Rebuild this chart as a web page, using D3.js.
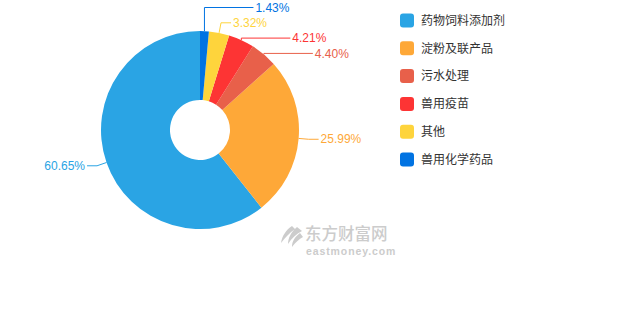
<!DOCTYPE html>
<html>
<head>
<meta charset="utf-8">
<script src="https://cdn.jsdelivr.net/npm/d3@7"></script>
<style>
  body { margin: 0; background: #fff; }
  svg { display: block; }
</style>
</head>
<body>
<div id="chart"></div>
<script>
// DATA
var categories = ['药物饲料添加剂', '淀粉及联产品', '污水处理', '兽用疫苗', '其他', '兽用化学药品'];
var shares = [60.65, 25.99, 4.40, 4.21, 3.32, 1.43];
var colors = ['#2aa4e4', '#fea838', '#e8604a', '#fd3434', '#fed43c', '#0173e2'];

var width = 630, height = 330;
var cx = 200, cy = 130, outerR = 99, innerR = 30;
var len1 = 10, len2 = 10, len2Shifted = 49, gap = 15.3;

var svg = d3.select('#chart')
  .append('svg')
    .attr('width', width)
    .attr('height', height);

var items = categories.map(function(c, i) { return { name: c, value: shares[i], color: colors[i] }; });

// smallest slice first, clockwise from 12 o'clock
var pie = d3.pie()
  .value(function(d) { return d.value; })
  .sort(function(a, b) { return a.value - b.value; });

var arc = d3.arc().innerRadius(innerR).outerRadius(outerR);
var arcs = pie(items);

// WATERMARK
var wm = svg.append('g').attr('class', 'watermark').attr('fill', '#cccccc');
wm.append('path')
  .attr('d', 'M292,226 C286,230 282,236 281,243 C285,238 289,233 295,229 Z' +
             'M297,227 C291,232 288,238 288,244 C292,238 296,234 302,231 Z' +
             'M300,233 C295,237 292,241 292,247 C296,242 299,239 303,237 Z');
wm.append('text')
  .text('东方财富网')
  .attr('x', 305)
  .attr('y', 239.5)
  .attr('font-size', 16.5)
  .attr('font-weight', 500)
  .attr('font-family', '"Noto Sans CJK SC", sans-serif');
wm.append('text')
  .text('eastmoney.com')
  .attr('x', 306)
  .attr('y', 255)
  .attr('font-size', 10.5)
  .attr('font-weight', 'bold')
  .attr('letter-spacing', 0.9)
  .attr('font-family', '"Liberation Sans", Arial, sans-serif');

// SLICES
var chart = svg.append('g').attr('transform', 'translate(' + cx + ',' + cy + ')');

chart.selectAll('path.slice')
  .data(arcs)
  .enter().append('path')
    .attr('class', 'slice')
    .attr('d', arc)
    .attr('fill', function(d) { return d.data.color; });

// LABELS
var labels = arcs.map(function(a) {
  var mid = (a.startAngle + a.endAngle) / 2;
  var s = Math.sin(mid), c = Math.cos(mid);
  return {
    d: a,
    side: s >= 0 ? 1 : -1,
    sx: cx + outerR * s, sy: cy - outerR * c,
    nx: cx + (outerR + len1) * s, ny: cy - (outerR + len1) * c,
    y: cy - (outerR + len1) * c
  };
});

// push overlapping labels apart, one side at a time
[1, -1].forEach(function(side) {
  var list = labels.filter(function(l) { return l.side == side; })
    .sort(function(a, b) { return a.ny - b.ny; });
  var clusters = list.map(function(l) { return [l]; });
  var merged = true;
  function place(cl) {
    var mean = d3.mean(cl, function(l) { return l.ny; });
    cl.forEach(function(l, i) { l.y = mean + (i - (cl.length - 1) / 2) * gap; });
  }
  clusters.forEach(place);
  while (merged) {
    merged = false;
    for (var i = 0; i < clusters.length - 1; i++) {
      var a = clusters[i], b = clusters[i + 1];
      if (b[0].y - a[a.length - 1].y < gap) {
        clusters.splice(i, 2, a.concat(b));
        place(clusters[i]);
        merged = true;
        break;
      }
    }
  }
});

labels.forEach(function(l) {
  if (Math.abs(l.y - l.ny) > 1) {
    var dy = l.y - cy;
    var onCircle = cx + l.side * Math.sqrt(Math.max(0, outerR * outerR - dy * dy));
    l.kx = l.side > 0 ? Math.max(l.sx, onCircle) : Math.min(l.sx, onCircle);
    l.ex = l.kx + l.side * len2Shifted;
  } else {
    l.kx = l.nx;
    l.ex = l.nx + l.side * len2;
  }
});

svg.selectAll('polyline.label-line')
  .data(labels)
  .enter().append('polyline')
    .attr('class', 'label-line')
    .attr('points', function(l) { return [[l.sx, l.sy], [l.kx, l.y], [l.ex, l.y]].join(' '); })
    .attr('fill', 'none')
    .attr('stroke', function(l) { return l.d.data.color; })
    .attr('stroke-width', 1);

svg.selectAll('text.label')
  .data(labels)
  .enter().append('text')
    .attr('class', 'label')
    .text(function(l) { return l.d.data.value.toFixed(2) + '%'; })
    .attr('x', function(l) { return l.ex + l.side * 2; })
    .attr('y', function(l) { return l.y; })
    .attr('dy', '0.35em')
    .attr('text-anchor', function(l) { return l.side > 0 ? 'start' : 'end'; })
    .attr('fill', function(l) { return l.d.data.color; })
    .attr('font-size', 12)
    .attr('font-family', '"Liberation Sans", Arial, sans-serif');

// LEGEND
var legendY = d3.scalePoint()
  .domain(categories)
  .range([20.5, 159.5]);

var legend = svg.selectAll('g.legend')
  .data(items)
  .enter().append('g')
    .attr('class', 'legend')
    .attr('transform', function(d) { return 'translate(400,' + legendY(d.name) + ')'; });

legend.append('rect')
  .attr('y', -7)
  .attr('width', 14)
  .attr('height', 14)
  .attr('rx', 3)
  .attr('fill', function(d) { return d.color; });

legend.append('text')
  .text(function(d) { return d.name; })
  .attr('x', 21)
  .attr('dy', '0.35em')
  .attr('fill', '#333')
  .attr('font-size', 12)
  .attr('font-family', '"Noto Sans CJK SC", sans-serif');
</script>
</body>
</html>
